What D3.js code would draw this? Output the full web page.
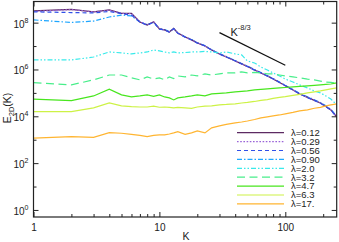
<!DOCTYPE html>
<html>
<head>
<meta charset="utf-8">
<script src="https://cdn.jsdelivr.net/npm/d3@7"></script>
<style>
  body { margin: 0; background: #fff; }
  text { font-family: "Liberation Sans", Arial, sans-serif; fill: #222; }
</style>
</head>
<body>
<div class="chart"></div>
<script>
//data
const kValues = [1,2,3,4,5,6,7,8,9,10,11,12,13,14,16,18,20,23,26,30,34,40,45,50,57,64,72,80,90,100,115,130,150,170,190,210,230,256];

const lam012 = [3.2e8,3.7e8,2.9e8,3.5e8,2.5e8,2.5e8,1.07e8,7.9e7,1.1e8,5.4e7,4.9e7,4.0e7,5.7e7,3.6e7,2.45e7,1.83e7,1.36e7,1.01e7,6.8e6,4.6e6,3.4e6,2.3e6,1.73e6,1.35e6,9.5e5,7.1e5,5.3e5,3.9e5,2.8e5,2.0e5,1.34e5,9.0e4,6.4e4,4.8e4,3.7e4,2.6e4,1.87e4,9.4e3];
const lam029 = [3.0e8,3.6e8,2.9e8,3.4e8,2.5e8,2.4e8,1.1e8,8.1e7,1.08e8,5.5e7,4.8e7,4.1e7,5.5e7,3.6e7,2.5e7,1.8e7,1.38e7,1.0e7,6.9e6,4.6e6,3.5e6,2.3e6,1.75e6,1.33e6,9.6e5,7.0e5,5.4e5,3.9e5,2.85e5,2.0e5,1.36e5,9.1e4,6.5e4,4.9e4,3.7e4,2.65e4,1.9e4,9.6e3];
const lam056 = [2.9e8,2.7e8,2.6e8,3.0e8,2.4e8,2.1e8,1.05e8,7.8e7,1.05e8,5.3e7,4.9e7,3.9e7,5.6e7,3.5e7,2.4e7,1.85e7,1.34e7,1.02e7,6.7e6,4.5e6,3.4e6,2.35e6,1.7e6,1.36e6,9.4e5,7.2e5,5.2e5,4.0e5,2.8e5,2.05e5,1.33e5,9.2e4,6.3e4,4.8e4,3.6e4,2.6e4,1.85e4,9.2e3];
const lam090 = [1.31e8,1.02e8,1.17e8,1.74e8,2.1e8,1.95e8,1.07e8,8.3e7,1.0e8,5.6e7,5.0e7,4.2e7,5.4e7,3.7e7,2.5e7,1.9e7,1.4e7,1.05e7,7.0e6,4.8e6,3.6e6,2.4e6,1.8e6,1.4e6,1.0e6,7.4e5,5.5e5,4.1e5,2.9e5,2.1e5,1.4e5,9.6e4,6.8e4,5.1e4,3.9e4,2.8e4,2.0e4,1.0e4];
const lam20 = [2.55e6,2.55e6,3.4e6,5.6e6,5.1e6,4.6e6,5.1e6,5.6e6,6.8e6,6.2e6,5.6e6,5.1e6,5.6e6,5.1e6,5.3e6,5.6e6,5.6e6,5.9e6,5.6e6,5.1e6,5.6e6,4.6e6,4.2e6,2.3e6,1.9e6,1.28e6,9.5e5,7.1e5,5.3e5,3.9e5,2.9e5,2.2e5,1.63e5,1.21e5,1.0e5,7.4e4,5.5e4,3.1e4];
const lam32 = [2.74e5,2.2e5,3.6e5,5.8e5,5.8e5,4.4e5,3.6e5,4.8e5,3.9e5,4.4e5,3.6e5,4.8e5,4.1e5,5.3e5,4.8e5,5.8e5,5.3e5,6.5e5,5.8e5,6.5e5,7.1e5,7.1e5,7.9e5,7.1e5,7.5e5,7.1e5,6.5e5,6.5e5,5.8e5,5.3e5,4.8e5,4.4e5,3.9e5,3.6e5,3.2e5,2.9e5,2.8e5,2.66e5];
const lam47 = [5.4e4,4.7e4,7.4e4,1.43e5,8.2e4,6.7e4,7.4e4,8.2e4,7.1e4,8.2e4,6.7e4,6.1e4,5.0e4,6.1e4,6.7e4,7.4e4,8.2e4,7.4e4,9.0e4,9.5e4,1.0e5,1.1e5,1.15e5,1.21e5,1.34e5,1.4e5,1.48e5,1.55e5,1.63e5,1.7e5,1.8e5,1.9e5,2.0e5,2.1e5,2.2e5,2.3e5,2.4e5,2.66e5];
const lam63 = [1.58e4,1.58e4,2.3e4,3.7e4,2.8e4,2.6e4,2.5e4,2.5e4,2.7e4,2.44e4,2.5e4,2.4e4,2.3e4,2.4e4,2.3e4,2.2e4,2.5e4,2.7e4,2.8e4,3.1e4,3.2e4,3.4e4,3.7e4,3.9e4,4.3e4,4.8e4,5.2e4,5.8e4,6.4e4,6.9e4,7.8e4,8.6e4,1.0e5,1.1e5,1.21e5,1.34e5,1.48e5,1.63e5];
const lam17 = [1.16e3,1.35e3,1.27e3,2.0e3,1.89e3,1.68e3,1.52e3,1.35e3,1.52e3,1.6e3,1.6e3,1.76e3,1.95e3,2.2e3,1.68e3,1.95e3,2.37e3,1.95e3,3.2e3,3.9e3,4.5e3,5.2e3,5.7e3,6.3e3,7.3e3,8.5e3,9.4e3,1.04e4,1.14e4,1.26e4,1.46e4,1.69e4,1.87e4,2.2e4,2.4e4,2.8e4,3.1e4,3.4e4];

const seriesNames = ["λ=0.12","λ=0.29","λ=0.56","λ=0.90","λ=2.0","λ=3.2","λ=4.7","λ=6.3","λ=17."];
const seriesValues = [lam012,lam029,lam056,lam090,lam20,lam32,lam47,lam63,lam17];
//order the curves are painted in (light blue under the dark ones)
const drawOrder = [3,0,1,2,4,5,6,7,8];

//reference slope K^-8/3
const refK = [30, 100];
const refE0 = 3.75e7;

const xMajor = [1,10,100];
const xMinor = [2,3,4,5,6,7,8,9,20,30,40,50,60,70,80,90,200];
const yMajor = [1,1e2,1e4,1e6,1e8];
const yMinor = [10,1e3,1e5,1e7];

//styles
const colors = ["#5c2a62","#9a63d8","#3050e8","#1ea6ff","#38eaea","#48ee8a","#48e61e","#cdf246","#ffb531"];
const dashes = [null,"1.6,1.6","4,3","5,2,1.5,2","5,2,1.5,2,1.5,2","8,4.5",null,null,null];

const width = 339;
const height = 242;
const plotLeft = 33.5, plotRight = 336.7, plotTop = 1.5, plotBottom = 217;

const svg = d3.select(".chart")
		.append("svg")
		.attr("width", width)
		.attr("height", height);

const x = d3.scaleLog().domain([1,256]).range([plotLeft,plotRight]);
const y = d3.scaleLog().domain([0.5,8e8]).range([plotBottom,plotTop]);

const line = d3.line()
		.x(d=>x(d[0]))
		.y(d=>y(d[1]));

const plot = svg.append("g");
plot.append("clipPath").attr("id","clip")
		.append("rect").attr("x",plotLeft).attr("y",plotTop).attr("width",plotRight-plotLeft).attr("height",plotBottom-plotTop);

const lines = plot.append("g").attr("clip-path","url(#clip)");
drawOrder.forEach(i=>{
	lines.append("path")
			.datum(kValues.map((k,j)=>[k,seriesValues[i][j]]))
			.attr("d",line)
			.attr("fill","none")
			.attr("stroke",colors[i])
			.attr("stroke-width",1.2)
			.attr("stroke-dasharray",dashes[i]);
});

//K^-8/3 line
plot.append("path")
		.datum(refK.map(k=>[k, refE0*Math.pow(k/refK[0],-8/3)]))
		.attr("d",line)
		.attr("fill","none")
		.attr("stroke","#111")
		.attr("stroke-width",1.2);

const refLabel = svg.append("text")
		.attr("x",x(refK[0])+11)
		.attr("y",36)
		.style("font-size","11px");
refLabel.append("tspan").text("K");
refLabel.append("tspan").attr("dy",-6).style("font-size","7.5px").text("-8/3");

//axes, ticks pointing inward
const fontStyle = g=>g.selectAll("text").style("font-size","10px").style("font-family","'Liberation Sans', Arial, sans-serif").attr("fill","#222");
const clean = g=>{g.select(".domain").remove(); g.selectAll("line").attr("stroke","#222");};

svg.append("g").attr("transform",`translate(0,${plotBottom})`)
		.call(d3.axisBottom(x).tickValues(xMajor).tickSize(-5).tickPadding(7).tickFormat(d3.format("d")))
		.call(clean).call(fontStyle);
svg.append("g").attr("transform",`translate(0,${plotBottom})`)
		.call(d3.axisBottom(x).tickValues(xMinor).tickSize(-3).tickFormat(""))
		.call(clean);
svg.append("g").attr("transform",`translate(0,${plotTop})`)
		.call(d3.axisTop(x).tickValues(xMajor).tickSize(-5).tickFormat(""))
		.call(clean);
svg.append("g").attr("transform",`translate(0,${plotTop})`)
		.call(d3.axisTop(x).tickValues(xMinor).tickSize(-3).tickFormat(""))
		.call(clean);

const yAxis = svg.append("g").attr("transform",`translate(${plotLeft},0)`)
		.call(d3.axisLeft(y).tickValues(yMajor).tickSize(-5).tickPadding(5).tickFormat(""))
		.call(clean);
yAxis.selectAll(".tick text")
		.style("font-size","10px")
		.attr("fill","#222")
		.attr("dy","0.45em")
		.each(function(d){
			const t = d3.select(this);
			t.append("tspan").text("10");
			t.append("tspan").attr("dy",-5).style("font-size","7px").text(Math.round(Math.log10(d)));
		});
svg.append("g").attr("transform",`translate(${plotLeft},0)`)
		.call(d3.axisLeft(y).tickValues(yMinor).tickSize(-3).tickFormat(""))
		.call(clean);
svg.append("g").attr("transform",`translate(${plotRight},0)`)
		.call(d3.axisRight(y).tickValues(yMajor).tickSize(-5).tickFormat(""))
		.call(clean);
svg.append("g").attr("transform",`translate(${plotRight},0)`)
		.call(d3.axisRight(y).tickValues(yMinor).tickSize(-3).tickFormat(""))
		.call(clean);

svg.append("rect")
		.attr("x",plotLeft).attr("y",plotTop)
		.attr("width",plotRight-plotLeft).attr("height",plotBottom-plotTop)
		.attr("fill","none").attr("stroke","#222").attr("stroke-width",1.2);

//axis titles
svg.append("text")
		.attr("x",(plotLeft+plotRight)/2 + 1)
		.attr("y",240)
		.attr("text-anchor","middle")
		.style("font-size","10.5px")
		.text("K");

const yTitle = svg.append("text")
		.attr("transform","translate(11,108) rotate(-90)")
		.attr("text-anchor","middle")
		.style("font-size","10.5px");
yTitle.append("tspan").text("E");
yTitle.append("tspan").attr("dy",2.5).style("font-size","7.5px").text("2D");
yTitle.append("tspan").attr("dy",-2.5).text("(K)");

//legend
const legendTop = 132.7;
const rowStep = 8.9;
const legendItem = svg.append("g")
		.selectAll("g")
		.data(seriesNames)
		.enter()
		.append("g")
		.attr("transform",(d,i)=>`translate(0,${legendTop + i*rowStep})`);
legendItem.append("line")
		.attr("x1",237).attr("x2",284)
		.attr("stroke",(d,i)=>colors[i])
		.attr("stroke-width",1.2)
		.attr("stroke-dasharray",(d,i)=>dashes[i]);
legendItem.append("text")
		.attr("x",291)
		.attr("y",3.3)
		.style("font-size","9.5px")
		.text(d=>d);
</script>
</body>
</html>
